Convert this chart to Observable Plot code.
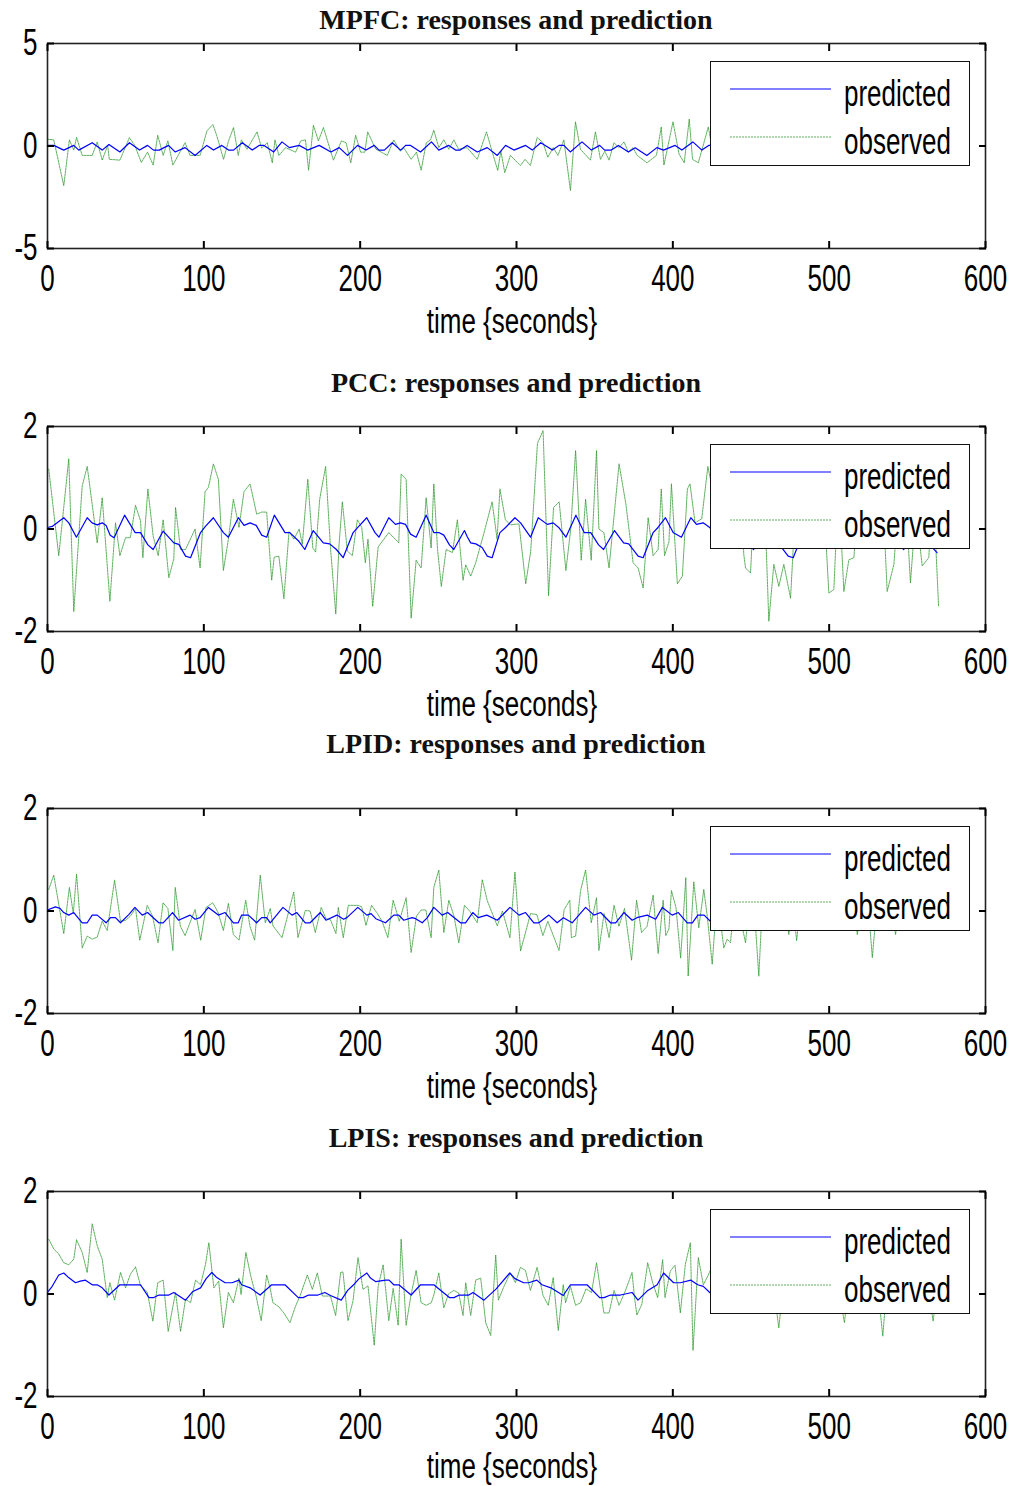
<!DOCTYPE html>
<html>
<head>
<meta charset="utf-8">
<script src="https://cdn.jsdelivr.net/npm/d3@7"></script>
<script src="https://cdn.jsdelivr.net/npm/@observablehq/plot@0.6"></script>
<style>
  html, body { margin: 0; padding: 0; background: #fff; }
  #wrap { position: relative; width: 1013px; height: 1486px; overflow: hidden; background: #fff; }
  .panel { position: absolute; left: 0; }
  .title { position: absolute; left: 47px; width: 938px; text-align: center; font-family: "Liberation Serif", "Times New Roman", serif; font-weight: bold; font-size: 28px; color: #111; white-space: nowrap; }
  .xlab { position: absolute; left: 312px; width: 400px; text-align: center; font-family: "Liberation Sans", Arial, sans-serif; font-size: 26px; color: #000; transform: scaleY(1.38); white-space: nowrap; }
  .legend { position: absolute; left: 710px; width: 258px; height: 103px; border: 1.5px solid #111; background: #fff; }
</style>
</head>
<body>
<div id="wrap"></div>
<script>
// ---------------- data ----------------
const xTicks = [0, 100, 200, 300, 400, 500, 600];
const titles = ["MPFC: responses and prediction", "PCC: responses and prediction", "LPID: responses and prediction", "LPIS: responses and prediction"];
const xLabel = "time {seconds}";
const seriesNames = ["predicted", "observed"];

// MPFC  [time (s), value]
const mpfcObs = [[0,0.33],[4,0.3],[10.4,-1.93],[14,0.3],[16.8,-0.2],[18.6,0.42],[22.2,-0.46],[28.6,-0.46],[31.8,0.2],[35,-0.69],[38.5,0.03],[39.5,-0.65],[46.3,-0.69],[52.4,0.41],[56,0.0],[60,-0.8],[64,-0.3],[67.6,-0.93],[70.5,0.52],[74,-0.46],[77,0.25],[80.2,-0.93],[88,0.16],[91.2,-0.46],[97.6,-0.46],[102,0.74],[105.8,1.05],[108.3,0.5],[112.6,-0.65],[115.8,0.25],[119,0.9],[122,-0.46],[124,0.3],[127.6,-0.16],[134,0.69],[137,-0.1],[140.6,0.16],[143.8,-0.82],[145.5,0.3],[148,-0.46],[152.3,-0.08],[158.7,-0.3],[162,0.25],[165,0.3],[167,-1.18],[170.1,1.01],[173.3,0.25],[176.5,0.9],[182.9,-0.69],[188,0.25],[191,0.16],[194,-0.82],[197.1,0.52],[200.3,-0.3],[203,-0.3],[204.8,0.69],[208,0.16],[210,-0.15],[217.3,-0.46],[221.5,0.3],[225.5,-0.25],[228,-0.1],[232.6,-0.65],[236,-0.3],[239,-1.18],[242.3,0.16],[245,0.3],[247.1,0.77],[250.3,-0.08],[253.5,0.3],[256.7,-0.16],[259.9,0.3],[263,-0.16],[268.4,-0.08],[274.9,-0.65],[280.8,0.69],[284.5,-0.3],[288,-1.19],[290,-0.25],[292.5,-1.3],[296.1,-0.46],[302.5,-0.95],[305.5,-0.65],[308.9,-0.95],[313.2,0.41],[317,0.16],[320,-0.55],[323.5,-0.08],[326.5,-0.46],[330.3,0.3],[334.5,-2.17],[337.7,1.18],[340.9,-0.16],[347.3,-0.69],[350.5,0.69],[353.7,-0.65],[356.5,-0.25],[359.2,-0.69],[362.4,0.16],[365.5,-0.08],[368.8,0.2],[371.5,-0.3],[374.5,-0.08],[377.2,-0.46],[383.5,-0.82],[389.5,-0.46],[392.6,0.93],[394.3,-0.93],[400.1,1.18],[404,-0.4],[407.3,-0.82],[410.5,1.31],[412.6,-0.65],[416.3,-0.82],[422.7,0.93],[426,-0.5],[429,0.6],[432,-0.7],[435,0.2],[438,-0.3],[441,0.7],[444,-0.9],[447,0.1],[450,-0.4],[453,0.5],[456,-0.6],[459,0.3],[462,-0.2],[465,0.8],[468,-0.7],[471,0.2],[474,-0.5],[477,0.4],[480,-0.8],[483,0.6],[486,0.0],[489,-0.6],[492,0.5],[495,-0.3],[498,0.7],[501,-0.9],[504,0.2],[507,-0.4],[510,0.6],[513,-0.7],[516,0.3],[519,-0.2],[522,0.8],[525,-0.6],[528,0.1],[531,-0.8],[534,0.5],[537,-0.3],[540,0.4],[543,-0.9],[546,0.7],[549,-0.2],[552,0.3],[555,-0.7],[558,0.6],[561,-0.4],[564,0.2],[567,-0.6],[570,0.4]];
const mpfcPred = [[0,0.03],[4,0.03],[10.4,-0.2],[16.8,0.03],[20,-0.2],[28.6,0.16],[35,-0.2],[39.3,0.07],[46.3,-0.29],[52.4,0.16],[58.9,-0.2],[64,0.03],[67.8,-0.2],[71.5,-0.2],[77.4,0.03],[81.6,-0.29],[88,-0.08],[94.4,-0.46],[101.9,0.03],[106.2,-0.2],[111.5,0.03],[115.8,-0.2],[119,-0.2],[124.6,0.16],[131,-0.2],[135.3,0.03],[138.5,0.03],[144.7,-0.29],[150,0.2],[154.7,-0.08],[161,0.03],[166.4,-0.2],[173.8,0.03],[181.3,-0.29],[186.6,-0.08],[191.9,-0.46],[198.3,0.03],[203.7,-0.2],[209,0.03],[212,-0.2],[215.5,-0.2],[220.5,0.16],[225.9,-0.2],[229.1,0.03],[232.3,0.03],[238.6,-0.29],[245.6,0.2],[250.3,-0.2],[256.7,0.03],[261,-0.2],[264,-0.2],[268.4,0.03],[274.9,-0.29],[281.3,-0.08],[287.7,-0.46],[293,0.03],[298.4,-0.2],[305.8,0.03],[310.1,-0.2],[315.5,0.16],[323,-0.2],[327.2,0.03],[330.3,0.03],[334.4,-0.29],[341.9,0.2],[347.9,-0.2],[353.2,0.03],[356.4,-0.2],[360.6,-0.2],[365.2,0.03],[371.6,-0.29],[375.9,-0.08],[383.4,-0.46],[389.8,-0.08],[394,-0.2],[401.5,0.03],[405.8,-0.2],[412.8,0.2],[418.6,-0.2],[422.9,0.03],[426.5,0.03],[430.4,-0.29],[437.9,0.2],[443.9,-0.2],[449.2,0.03],[452.4,-0.2],[456.6,-0.2],[461.2,0.03],[467.6,-0.29],[471.9,-0.08],[479.4,-0.46],[485.8,-0.08],[490,-0.2],[497.5,0.03],[501.8,-0.2],[508.8,0.2],[514.6,-0.2],[518.9,0.03],[522.5,0.03],[526.4,-0.29],[533.9,0.2],[539.9,-0.2],[545.2,0.03],[548.4,-0.2],[552.6,-0.2],[557.2,0.03],[563.6,-0.29],[567.9,-0.08],[570,-0.2]];

// PCC
const pccObs = [[0.8,1.17],[7.2,-0.52],[13.6,1.37],[16.8,-1.61],[22.2,0.84],[25.4,1.22],[31.8,-0.27],[35,0.61],[39.9,-1.41],[43.5,0.12],[46.3,-0.52],[49.9,-0.17],[53,-0.17],[56.3,0.46],[59.5,0.16],[61,-0.56],[64.2,0.78],[67.6,-0.14],[70.8,-0.52],[74,0.18],[77.6,-0.95],[80.8,-0.58],[81.9,0.42],[85.1,-0.4],[88.3,-0.4],[94.4,0],[97.6,-0.76],[100.8,0.73],[102.9,0.81],[106.1,1.27],[109.3,0.97],[112.5,-0.81],[115.7,-0.2],[118.9,0.58],[122.5,0.03],[125.7,0.73],[129.6,0.88],[133.8,0.29],[137,0.33],[140.2,0.33],[143.4,-1.0],[145,-0.55],[148,-0.53],[151.2,-1.36],[154.5,-0.05],[157.6,-0.2],[161,0.0],[163,-0.3],[166.5,0.97],[169.7,-0.37],[171.5,-0.45],[174.1,0.58],[177.9,1.22],[181,-0.36],[184.4,-1.66],[186.5,-0.3],[188.6,0.53],[191.8,-0.43],[195,-0.52],[198.2,0.18],[201,0.03],[203.3,-0.66],[205,-0.2],[208,-1.51],[211.5,-0.35],[218.3,-0.07],[224.7,-0.27],[226.2,1.07],[229.4,0.97],[232.6,-1.74],[235.8,-0.61],[239,-0.76],[242.2,0.61],[245.4,-0.37],[247.1,0.88],[249.5,-0.4],[251.9,-1.12],[255,-0.4],[259,-0.46],[262.2,0.18],[265.8,-1.0],[267.5,-0.7],[270.7,-0.92],[273.9,-0.66],[279,-0.1],[284.4,0.53],[287.6,-0.2],[289.4,0.78],[292.9,0.18],[296,0.08],[301.6,0.1],[305.9,-1.07],[309.1,-0.43],[313.4,1.67],[317,1.92],[320.5,-1.3],[323.7,0.42],[327.3,0.53],[331.6,-0.81],[334.7,0.0],[337.8,1.53],[341.4,-0.61],[344.2,0.58],[347.8,-0.61],[351.2,1.53],[352.7,0.0],[355.9,-0.07],[359.2,-0.76],[365.6,1.27],[369.9,0.5],[374.6,-0.66],[377.8,-0.76],[381,-1.15],[384.2,0.22],[387.4,-0.52],[390.6,-0.4],[392.6,0.78],[394.7,-0.52],[397.5,-0.25],[399.1,0.88],[402.9,-1.07],[406.1,-0.92],[409.3,0.78],[411,0.88],[414.2,0.12],[418.5,0.2],[422.4,1.22],[424.5,0.9],[427.5,-0.1],[431,1.1],[434,0.2],[437.5,0.8],[441,-0.2],[443.5,0.6],[445.4,-0.5],[446.5,-0.76],[449.7,-0.86],[452.5,0.9],[455.5,0.1],[458.5,0.7],[461.4,-1.8],[464.6,-0.69],[467.8,-1.12],[471,-0.69],[475.3,-1.35],[478.5,0.5],[481.5,1.3],[484.5,0.2],[488,1.0],[491.5,-0.1],[494.5,0.6],[497,0.3],[499.8,-1.25],[503,-1.18],[506,0.9],[509.4,-1.22],[512.6,-0.6],[515.8,-0.56],[519,0.7],[522.5,1.4],[525.5,0.3],[528.5,1.0],[531.5,-0.2],[534.5,0.5],[537.1,-1.22],[541.4,-0.69],[544.5,0.6],[548,1.1],[552,-1.05],[555.5,0.4],[559.5,-0.72],[563.7,-0.56],[566.5,0.8],[570,-1.51]];
const pccPred = [[0,0.03],[3,0.05],[10.4,0.22],[13.6,0.12],[18.5,-0.16],[25.4,0.22],[28.5,0.12],[31.8,0.08],[35,0.12],[37.5,0.07],[40.1,-0.12],[42.6,-0.17],[49.3,0.27],[56.1,-0.07],[59.5,-0.07],[64.2,-0.31],[67.6,-0.4],[74,-0.04],[80.8,-0.27],[84,-0.3],[88.3,-0.53],[91.5,-0.56],[97.9,-0.07],[101,0.05],[106.1,0.22],[112.5,-0.07],[115.7,-0.16],[122.1,0.22],[125.7,0.07],[129.6,0.12],[133.5,0.07],[137,-0.12],[140.2,-0.16],[145.1,0.27],[151.9,-0.07],[155,-0.07],[160.8,-0.24],[164.6,-0.4],[170,-0.03],[176.4,-0.27],[180.5,-0.29],[184.8,-0.4],[189.1,-0.56],[195.5,-0.07],[198.5,0.03],[204.2,0.22],[209.5,-0.07],[212,-0.16],[218.3,0.22],[222.6,0.09],[225.8,0.12],[229,0.09],[232.2,-0.1],[235.8,-0.16],[242.2,0.27],[247.1,-0.07],[250.3,-0.07],[253.5,-0.12],[257.1,-0.31],[259.9,-0.4],[266.7,-0.03],[268.5,-0.15],[270.7,-0.27],[274,-0.29],[278,-0.36],[281.3,-0.53],[284.4,-0.56],[289.4,-0.07],[293,0.03],[299,0.22],[302.6,0.12],[309,-0.16],[313.9,0.22],[319.7,0.09],[323.5,0.12],[327,0.03],[331.6,-0.16],[338,0.27],[343.3,-0.07],[347.5,-0.07],[352.5,-0.31],[355.7,-0.4],[362.7,-0.03],[368.5,-0.27],[371.8,-0.29],[377.8,-0.53],[381,-0.56],[387.4,-0.07],[390.5,0.03],[395.3,0.22],[400.2,-0.07],[405.5,-0.16],[411.5,0.22],[415.1,0.09],[419.4,0.12],[423.6,0.03],[427.6,-0.16],[434,0.27],[439.3,-0.07],[443.5,-0.07],[448.5,-0.31],[451.7,-0.4],[458.7,-0.03],[464.5,-0.27],[467.8,-0.29],[473.8,-0.53],[477,-0.56],[483.4,-0.07],[486.5,0.03],[491.3,0.22],[496.2,-0.07],[501.5,-0.16],[507.5,0.22],[511.1,0.09],[515.4,0.12],[519.6,0.03],[523.6,-0.16],[530,0.27],[535.3,-0.07],[539.5,-0.07],[544.5,-0.31],[547.7,-0.4],[554.7,-0.03],[560.5,-0.27],[563.8,-0.29],[569,-0.46]];

// LPID
const lpidObs = [[0.8,0.42],[4,0.7],[10.4,-0.44],[14,0.46],[16.5,-0.05],[18.6,0.72],[22.2,-0.72],[25.4,-0.49],[28.6,-0.55],[31.8,-0.51],[35,-0.2],[38.2,-0.38],[42.9,0.6],[46.7,-0.2],[50,-0.18],[53,-0.1],[56.3,0.05],[59,-0.57],[63.8,0.11],[67.2,-0.1],[70.7,-0.62],[73.9,0.16],[77,0.05],[80.2,-0.77],[81.7,0.46],[85,-0.3],[88,-0.48],[94.4,0.03],[98,-0.57],[101.4,0.07],[105.7,0.16],[109,-0.02],[112.5,-0.38],[115.7,0.15],[118.9,-0.46],[122.5,-0.57],[126.8,0.21],[129.5,-0.3],[132.5,-0.57],[136.1,0.7],[139.3,-0.23],[142.5,0.05],[144.2,-0.29],[150,-0.52],[157.5,0.37],[160.2,-0.52],[164.9,0.01],[168,0.0],[171.3,-0.42],[175.1,0.07],[178.1,-0.15],[181,-0.17],[184.5,-0.44],[186,0.07],[189.2,-0.52],[192.4,0.11],[198.8,0.11],[201,0.08],[203.7,-0.28],[207.3,0.11],[211,-0.05],[214,-0.2],[217.7,-0.52],[221.1,0.21],[225,-0.2],[229.4,0.26],[232.6,-0.81],[236,-0.1],[239,0.02],[242,0.02],[245.4,-0.52],[247.1,0.46],[250.3,0.8],[253.5,-0.42],[256.7,0.21],[260,-0.1],[263.1,-0.62],[266.7,0.11],[270,0.0],[274.9,-0.23],[278.1,0.61],[281.3,0.2],[287.7,-0.29],[291,0.0],[295.8,-0.52],[299,0.76],[302.6,-0.78],[309,-0.05],[313,-0.07],[316.9,-0.48],[320,-0.2],[327.2,-0.77],[330.5,0.03],[334.1,0.21],[335.1,-0.52],[337.8,-0.49],[341,0.4],[344.2,0.8],[347.8,-0.23],[351.2,0.26],[352.7,-0.77],[356,-0.05],[359.2,-0.52],[362.4,0.11],[365.5,-0.3],[369.1,0.05],[373.6,-0.96],[376.8,0.21],[380,-0.42],[383.5,-0.3],[387.4,0.31],[390.6,-0.83],[393.8,0.21],[395.5,-0.48],[397.5,-0.35],[399.1,0.4],[402,0.07],[405,-0.92],[408.3,0.65],[409.8,-1.27],[413.4,0.57],[416.6,-0.33],[419.8,0.42],[422,-0.1],[425.2,-1.04],[428.5,0.4],[430.5,-0.2],[432.6,-0.72],[434.8,-0.55],[436.9,-0.62],[440,0.5],[443,-0.1],[446.5,-0.62],[449.5,0.3],[452,0.1],[455,-1.27],[458,0.6],[461,-0.2],[464,0.3],[467,-0.3],[470.5,0.5],[474.2,-0.46],[476.5,0.2],[479.2,-0.58],[482.5,0.4],[486,-0.2],[489,0.6],[492,-0.3],[495,0.2],[498.5,-0.35],[502,0.5],[505,0.0],[508.5,0.7],[511.5,-0.3],[515,0.3],[518,-0.46],[521,0.2],[524,0.5],[527.6,-0.91],[531,0.3],[534,-0.2],[537,0.6],[540,0.0],[542.5,-0.46],[545.5,0.4],[549,-0.1],[552,0.5],[555,-0.3],[558.5,0.3],[562,-0.2],[565,0.6],[568,-0.1],[570,0.2]];
const lpidPred = [[0,0.02],[5,0.08],[8,0.05],[10.4,-0.03],[13.6,-0.08],[16.8,-0.03],[22.2,-0.23],[25.4,-0.23],[28.6,-0.08],[31.8,-0.08],[37.5,-0.23],[40.3,-0.13],[43.5,-0.13],[46.7,-0.23],[52,-0.07],[55.9,0.07],[60.6,-0.08],[64,-0.03],[71.2,-0.23],[74,-0.23],[80,-0.03],[83.8,-0.18],[91.2,-0.08],[94.4,-0.16],[97.6,-0.13],[102.9,0.07],[109.3,-0.08],[113.6,-0.03],[118.9,-0.23],[122,-0.23],[124.2,-0.08],[128.5,-0.08],[133.8,-0.23],[137,-0.13],[140.2,-0.13],[142.5,-0.23],[150.6,0.07],[156.4,-0.08],[159.5,-0.03],[164.9,-0.23],[168,-0.23],[174.5,-0.03],[178.1,-0.18],[185.1,-0.08],[189.4,-0.16],[191.5,-0.13],[198.5,0.07],[204.3,-0.08],[207,-0.05],[210,-0.15],[216.2,-0.23],[221.5,-0.08],[224.7,-0.08],[227.9,-0.18],[233.2,-0.13],[235.5,-0.15],[239.7,-0.23],[243,-0.13],[247.1,0.07],[252.4,-0.08],[256,-0.03],[264.2,-0.23],[267.4,-0.23],[272,-0.03],[275.5,-0.13],[281,-0.08],[287.7,-0.18],[295.8,0.07],[301.6,-0.08],[305.8,-0.03],[311.1,-0.23],[314.3,-0.23],[320.7,-0.08],[326,-0.23],[330,-0.13],[335.6,-0.23],[344.2,0.07],[349.5,-0.08],[353.8,-0.03],[360.2,-0.23],[363.4,-0.23],[368.7,-0.03],[374,-0.18],[377,-0.13],[383.6,-0.08],[389,-0.16],[393.3,0.07],[399.6,-0.08],[403.5,-0.03],[409.2,-0.23],[412.5,-0.23],[416,-0.08],[420,-0.08],[424,-0.2],[428,-0.13],[432,-0.23],[440.5,0.07],[446,-0.08],[450,-0.03],[456,-0.23],[459.5,-0.23],[465,-0.03],[470,-0.18],[473,-0.13],[480,-0.08],[485,-0.16],[489.5,0.07],[495.5,-0.08],[499.5,-0.03],[505,-0.23],[508.5,-0.23],[512,-0.08],[516,-0.08],[520,-0.2],[524,-0.13],[528,-0.23],[536.5,0.07],[542,-0.08],[546,-0.03],[552,-0.23],[555.5,-0.23],[561,-0.03],[566,-0.18],[570,-0.13]];

// LPIS
const lpisObs = [[0.8,1.07],[4,0.88],[7.2,0.78],[10.4,0.61],[13.6,0.57],[16.8,0.68],[18.6,1.06],[22.2,0.81],[25.4,0.42],[28.6,1.37],[31.8,0.94],[35,0.68],[38.2,-0.07],[39.9,0.22],[42.9,-0.12],[46.7,0.42],[49.9,0.12],[53.1,0.39],[56.3,0.53],[59.5,0.16],[63.8,0.04],[67.4,-0.53],[70.5,0.22],[74,0.27],[77.2,-0.73],[81.9,0.03],[85.1,-0.73],[88.3,-0.1],[91.5,-0.17],[94.7,0.27],[97.9,0.18],[101.1,0.58],[103.2,1.0],[106.4,0.12],[109.5,0.25],[112.5,-0.66],[115.7,0.03],[118.9,-0.17],[122.5,0.31],[123.8,-0.01],[126.9,0.81],[130,0.35],[133.5,-0.05],[136.7,-0.52],[140.2,0.37],[142.5,0.1],[144.2,-0.17],[148,-0.25],[151.2,-0.37],[155.1,-0.56],[158.5,-0.25],[161.5,-0.04],[166.2,0.37],[169.4,0.09],[172.6,0.41],[175.8,-0.04],[181,-0.04],[184.3,-0.42],[187.5,0.42],[189,0.43],[192.2,-0.52],[195.4,-0.14],[198.6,0.71],[201.8,0.09],[205,0.16],[209,-1.0],[211.5,0.15],[214.7,0.57],[218.3,-0.52],[221.1,0.11],[224.3,-0.61],[226.2,1.07],[229.4,-0.61],[232.5,-0.02],[235.8,0.46],[239,-0.17],[242.2,-0.22],[245.5,-0.17],[247.1,-0.02],[250.3,0.41],[253.5,-0.27],[256.5,0.0],[259.9,0.07],[263,0.02],[265.8,-0.42],[267.5,0.22],[270.7,-0.42],[273.9,0.27],[277.1,0.31],[280.3,-0.56],[283.5,-0.81],[286.7,0.76],[288.4,-0.12],[292,0.15],[296.1,0.41],[299.3,0.22],[302.5,0.52],[305.7,0.46],[308.9,0.07],[313.2,0.52],[317,-0.03],[320.3,-0.22],[323.5,0.32],[326.7,-0.71],[329.9,0.18],[331.4,-0.17],[334.5,0.15],[337.8,-0.22],[341,-0.17],[344.5,0.1],[348,0.03],[351.2,0.61],[355.9,-0.37],[359.2,-0.37],[362.4,0.07],[365.6,-0.22],[369.5,0.05],[373.9,0.42],[375.5,-0.07],[377,-0.41],[380.2,-0.2],[383.9,0.61],[387.1,0.22],[390.3,-0.07],[393.5,0.67],[395,-0.07],[398.4,0.45],[401.4,0.56],[404.8,-0.37],[408,0.58],[411.2,1.0],[412.9,-1.1],[416.3,0.71],[419.5,0.18],[422.7,0.37],[424.5,0.5],[427.5,0.1],[430.5,0.6],[433.5,-0.2],[437,0.4],[440,0.9],[443,0.0],[446,0.5],[449,-0.3],[452,0.3],[455.5,0.7],[458.5,-0.1],[461.5,0.4],[464.5,0.1],[467.8,-0.66],[471,0.3],[474,0.8],[477,0.0],[480,0.4],[483.5,-0.2],[487,0.5],[490,0.2],[493,0.9],[496,-0.1],[499.5,0.3],[503,0.6],[506.5,0.0],[509.8,-0.56],[513,0.4],[516,0.1],[519.5,0.7],[523,-0.2],[526,0.3],[529,0.6],[531.5,0.0],[534.3,-0.82],[537.5,0.4],[540.5,0.1],[544,0.8],[547,-0.1],[550.5,0.5],[554,0.2],[557,-0.2],[560,0.5],[563.5,0.1],[566.5,-0.53],[570,0.3]];
const lpisPred = [[0,0.03],[3,0.15],[7.2,0.37],[10.4,0.41],[13.5,0.32],[17.9,0.22],[21,0.25],[24.3,0.27],[28.6,0.18],[31.8,0.18],[35,0.12],[39.3,-0.02],[46.3,0.18],[50,0.18],[55,0.18],[59.5,0.18],[64.9,-0.07],[68,-0.07],[71.2,-0.02],[77.6,-0.02],[80.8,0.03],[88.3,-0.12],[93,0.05],[97.9,0.12],[101.5,0.3],[105.1,0.42],[108.3,0.32],[113.6,0.22],[118,0.22],[122.5,0.27],[124.2,0.18],[129.6,0.12],[136,-0.02],[143.4,0.18],[151.9,0.18],[160.4,-0.07],[163.5,-0.07],[167,-0.02],[173,-0.02],[177.4,0.03],[181,-0.03],[187.9,-0.12],[192,0.07],[195.8,0.18],[199,0.29],[204.3,0.41],[206.6,0.31],[210,0.24],[216.2,0.27],[218.5,0.27],[221.5,0.18],[224.7,0.18],[232.6,-0.02],[238.6,0.18],[247.1,0.18],[257.1,-0.07],[260,-0.07],[263.4,-0.02],[269.5,-0.02],[272.2,0.03],[279.2,-0.12],[287,0.1],[295.7,0.41],[299,0.3],[304.6,0.22],[307.8,0.22],[313,0.27],[316.3,0.18],[322,0.12],[329.9,-0.03],[334.5,0.18],[345.1,0.18],[353.2,-0.07],[356,-0.07],[360.1,-0.02],[366.5,-0.02],[373.9,0.03],[377.7,-0.12],[384,0.07],[390,0.18],[394.1,0.41],[400.5,0.22],[404.8,0.22],[411.6,0.27],[415.9,0.18],[419.5,0.15],[423.6,0.03],[426,-0.03],[430.5,0.18],[441,0.18],[449,-0.07],[452,-0.07],[456,-0.02],[462.5,-0.02],[470,0.03],[473.7,-0.12],[480,0.07],[486,0.18],[490,0.41],[496.5,0.22],[500.8,0.22],[507.6,0.27],[512,0.18],[515.5,0.15],[519.6,0.03],[522,-0.03],[526.5,0.18],[537,0.18],[545,-0.07],[548,-0.07],[552,-0.02],[558.5,-0.02],[566,0.03],[569.7,-0.12]];

const yDomains = [[-5, 5], [-2, 2], [-2, 2], [-2, 2]];
const yTickSets = [[-5, 0, 5], [-2, 0, 2], [-2, 0, 2], [-2, 0, 2]];
const obsSets = [mpfcObs, pccObs, lpidObs, lpisObs];
const predSets = [mpfcPred, pccPred, lpidPred, lpisPred];

// ---------------- layout ----------------
const frameTops = [43, 426, 808, 1191];
const frameH = 205;
const titleCenters = [20, 383, 744, 1138];
const xLabelOffsets = [73, 73, 73, 70];
const MT = 10, MB = 100;
const GREEN = "#2a962a", BLUE = "#0000ff";
const SY = 1.42; // vertical stretch of the sans text

const wrap = document.getElementById("wrap");

function stretchText(svg, sy) {
  d3.select(svg).selectAll("text").each(function () {
    const x = +this.getAttribute("x") || 0, y = +this.getAttribute("y") || 0;
    const t = this.getAttribute("transform") || "";
    this.setAttribute("transform", `${t} translate(${x},${y}) scale(1,${sy}) translate(${-x},${-y})`);
  });
}

for (let i = 0; i < 4; i++) {
  const chart = Plot.plot({
    width: 1013,
    height: MT + frameH + MB,
    marginTop: MT, marginBottom: MB, marginLeft: 47, marginRight: 28,
    style: {fontFamily: "'Liberation Sans', Arial, sans-serif", fontSize: "26px", color: "#000", background: "transparent", overflow: "visible"},
    x: {domain: [0, 600]},
    y: {domain: yDomains[i]},
    marks: [
      Plot.line(obsSets[i], {x: d => d[0], y: d => d[1], stroke: GREEN, strokeWidth: 1, strokeOpacity: 0.75, strokeDasharray: "2,1"}),
      Plot.line(predSets[i], {x: d => d[0], y: d => d[1], stroke: BLUE, strokeWidth: 1.2}),
      Plot.frame({stroke: "#222", strokeWidth: 1.6}),
      Plot.axisX({anchor: "bottom", ticks: xTicks, tickSize: -7, tickPadding: 23, strokeWidth: 2, label: null, tickFormat: d => String(d), fontSize: 26}),
      Plot.axisX({anchor: "top", ticks: xTicks, tickSize: -7, strokeWidth: 2, label: null, tickFormat: () => ""}),
      Plot.axisY({anchor: "left", ticks: yTickSets[i], tickSize: -7, tickPadding: 17, strokeWidth: 2, label: null, tickFormat: d => String(d), fontSize: 26}),
      Plot.axisY({anchor: "right", ticks: yTickSets[i], tickSize: -7, strokeWidth: 2, label: null, tickFormat: () => ""})
    ]
  });
  stretchText(chart, SY);
  const holder = document.createElement("div");
  holder.className = "panel";
  holder.style.top = (frameTops[i] - MT) + "px";
  holder.appendChild(chart);
  wrap.appendChild(holder);

  // title
  const tt = document.createElement("div");
  tt.className = "title";
  tt.textContent = titles[i];
  tt.style.top = (titleCenters[i] - 16) + "px";
  tt.style.lineHeight = "32px";
  wrap.appendChild(tt);

  // x label
  const xl = document.createElement("div");
  xl.className = "xlab";
  xl.textContent = xLabel;
  xl.style.top = (frameTops[i] + frameH + xLabelOffsets[i] - 11) + "px";
  xl.style.lineHeight = "22px";
  wrap.appendChild(xl);

  // legend
  const lg = document.createElement("div");
  lg.className = "legend";
  lg.style.top = (frameTops[i] + 18) + "px";
  const s = d3.create("svg").attr("width", 258).attr("height", 103).style("position", "absolute").style("left", 0).style("top", 0);
  const styles = [{stroke: BLUE, dash: null, op: 1, w: 1.2}, {stroke: GREEN, dash: "2,1", op: 0.75, w: 1}];
  seriesNames.forEach((name, k) => {
    const yy = 27 + k * 48;
    s.append("line").attr("x1", 19).attr("x2", 120).attr("y1", yy).attr("y2", yy)
      .attr("stroke", styles[k].stroke).attr("stroke-width", styles[k].w).attr("stroke-opacity", styles[k].op)
      .attr("stroke-dasharray", styles[k].dash);
    s.append("text").attr("x", 133).attr("y", yy + 5)
      .attr("transform", `translate(133,${yy + 5}) scale(1,${SY}) translate(-133,${-(yy + 5)})`)
      .attr("dy", "0.32em")
      .attr("font-family", "'Liberation Sans', Arial, sans-serif").attr("font-size", 26).attr("fill", "#000")
      .text(name);
  });
  lg.appendChild(s.node());
  wrap.appendChild(lg);
}
</script>
</body>
</html>
